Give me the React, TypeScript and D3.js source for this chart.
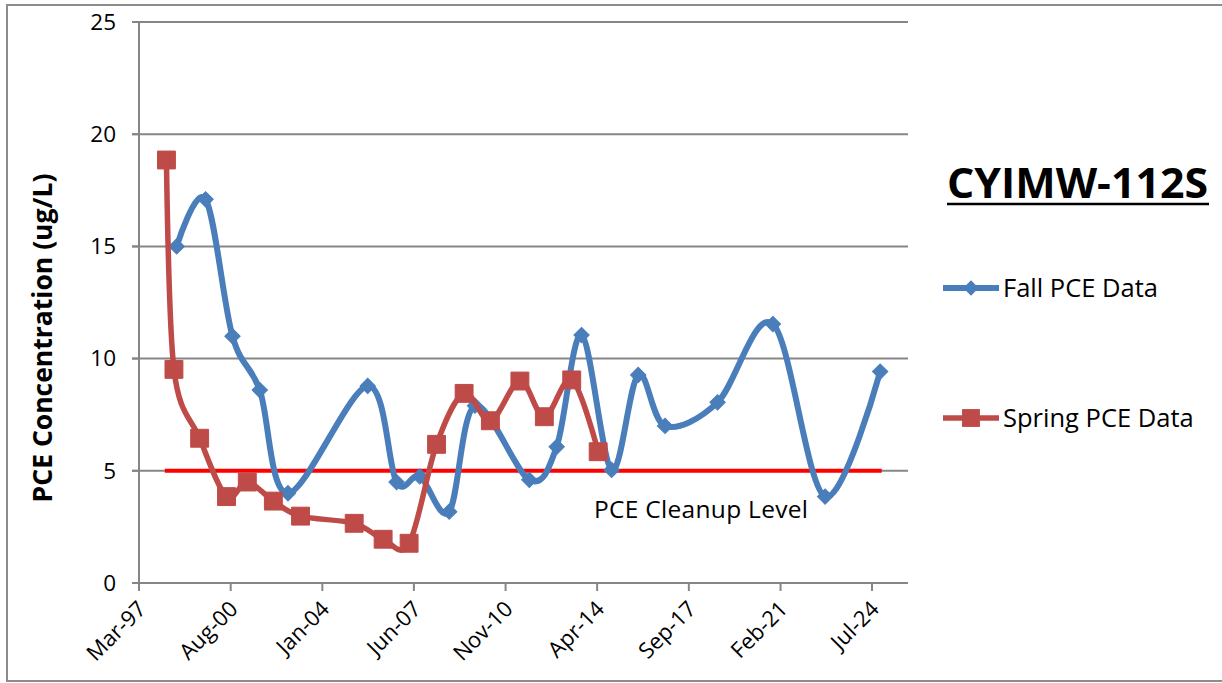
import React from "react";
import * as d3 from "d3";

// ---- data ----
const fallDates = [
  "1998-07-27", "1999-08-25", "2000-08-25", "2001-09-01", "2002-09-20",
  "2005-09-10", "2006-10-08", "2007-08-20", "2008-09-24", "2009-09-10",
  "2011-09-20", "2012-09-27", "2013-09-01", "2014-10-15", "2015-10-12",
  "2016-10-12", "2018-09-27", "2020-10-20", "2022-10-01", "2024-10-20",
];
const fallValues = [
  15.0, 17.1, 11.0, 8.6, 4.0,
  8.78, 4.5, 4.75, 3.18, 7.9,
  4.6, 6.07, 11.05, 5.04, 9.27,
  7.0, 8.05, 11.54, 3.85, 9.42,
];
const springDates = [
  "1998-03-10", "1998-06-20", "1999-06-05", "2000-06-05", "2001-03-15",
  "2002-03-05", "2003-03-10", "2005-03-10", "2006-04-08", "2007-03-28",
  "2008-04-05", "2009-04-15", "2010-04-08", "2011-05-15", "2012-04-12",
  "2013-04-20", "2014-04-15",
];
const springValues = [
  18.85, 9.52, 6.45, 3.85, 4.5,
  3.65, 2.98, 2.66, 1.95, 1.77,
  6.18, 8.45, 7.23, 9.0, 7.41,
  9.05, 5.85,
];
const cleanupLevel = 5;
const cleanupDates = ["1998-02-15", "2024-11-10"];
const yTicks = [0, 5, 10, 15, 20, 25];
const xTickLabels = ["Mar-97", "Aug-00", "Jan-04", "Jun-07", "Nov-10", "Apr-14", "Sep-17", "Feb-21", "Jul-24"];
const xDomain = ["1997-03-01", "2025-11-03"];

const title = "CYIMW-112S";
const yTitle = "PCE Concentration (ug/L)";
const fallName = "Fall PCE Data";
const springName = "Spring PCE Data";
const cleanupName = "PCE Cleanup Level";

const W = 1222;
const H = 683;
const FONT = "'Open Sans', 'Noto Sans', sans-serif";
const BLUE = "#4A7EBB";
const RED = "#BE4B48";

export default function App() {
  const parse = d3.timeParse("%Y-%m-%d");
  const parseTick = d3.timeParse("%b-%y");
  const x = d3.scaleTime().domain(xDomain.map((d) => parse(d) as Date)).range([139, 908]);
  const y = d3.scaleLinear().domain([0, 25]).range([583, 22]);

  const fall = fallDates.map((d, i) => ({ x: x(parse(d) as Date), y: y(fallValues[i]) }));
  const spring = springDates.map((d, i) => ({ x: x(parse(d) as Date), y: y(springValues[i]) }));
  const line = d3
    .line<{ x: number; y: number }>()
    .x((d) => d.x)
    .y((d) => d.y)
    .curve(d3.curveCatmullRom.alpha(0));

  const diamond = d3.symbol(d3.symbolSquare, 118)();
  const square = d3.symbol(d3.symbolSquare, 320)();

  const ticks = xTickLabels.map((l) => ({ l, x: x(parseTick(l) as Date) }));
  const [x0, x1] = x.range();

  return (
    <svg
      width={W}
      height={H}
      style={{ position: "absolute", left: 0, top: 0, background: "#fff" }}
      fontFamily={FONT}
    >
      <rect x={7} y={5} width={W} height={676} fill="#fff" stroke="#8c8c8c" strokeWidth={2} />
      {/* gridlines */}
      {yTicks.map((t) => (
        <g key={t}>
          {t > 0 && <line x1={132} x2={x1} y1={y(t)} y2={y(t)} stroke="#868686" strokeWidth={2} />}
          <line x1={132} x2={x0} y1={y(t)} y2={y(t)} stroke="#868686" strokeWidth={2} />
          <text x={116} y={y(t)} dy="0.35em" textAnchor="end" fontSize={22.5} fill="#000">
            {t}
          </text>
        </g>
      ))}
      {/* axes */}
      <line x1={x0} x2={x0} y1={y(25)} y2={y(0)} stroke="#868686" strokeWidth={2} />
      <line x1={x0} x2={x1} y1={y(0)} y2={y(0)} stroke="#868686" strokeWidth={2} />
      {ticks.map((t) => (
        <g key={t.l}>
          <line x1={t.x} x2={t.x} y1={y(0)} y2={y(0) + 8} stroke="#868686" strokeWidth={2} />
          <text
            transform={`translate(${t.x + 3},${y(0) + 22}) rotate(-45)`}
            textAnchor="end"
            dy="0.35em"
            fontSize={22}
            fill="#000"
          >
            {t.l}
          </text>
        </g>
      ))}
      <text
        transform={`translate(43,338) rotate(-90)`}
        textAnchor="middle"
        dy="0.35em"
        fontSize={26.5}
        fontWeight="bold"
        fill="#000"
      >
        {yTitle}
      </text>
      {/* cleanup level */}
      <line
        x1={x(parse(cleanupDates[0]) as Date)}
        x2={x(parse(cleanupDates[1]) as Date)}
        y1={y(cleanupLevel)}
        y2={y(cleanupLevel)}
        stroke="#FF0000"
        strokeWidth={4}
      />
      <text x={594} y={518} fontSize={24.5} textLength={214} lengthAdjust="spacing" fill="#000">
        {cleanupName}
      </text>
      {/* series */}
      <path d={line(fall) || ""} fill="none" stroke={BLUE} strokeWidth={6} strokeLinejoin="round" />
      {fall.map((p, i) => (
        <path key={i} d={diamond || ""} transform={`translate(${p.x},${p.y}) rotate(45)`} fill={BLUE} stroke={BLUE} strokeWidth={1} />
      ))}
      <path d={line(spring) || ""} fill="none" stroke={RED} strokeWidth={5.5} strokeLinejoin="round" />
      {spring.map((p, i) => (
        <path key={i} d={square || ""} transform={`translate(${p.x},${p.y})`} fill={RED} stroke={RED} strokeWidth={1} />
      ))}
      {/* title */}
      <text x={947} y={198} fontSize={41} fontWeight="bold" textLength={261} lengthAdjust="spacingAndGlyphs" fill="#000">
        {title}
      </text>
      <line x1={947} x2={1209} y1={204} y2={204} stroke="#000" strokeWidth={2.5} />
      {/* legend */}
      <line x1={943} x2={999} y1={288} y2={288} stroke={BLUE} strokeWidth={6} />
      <path d={diamond || ""} transform={`translate(971,288) rotate(45)`} fill={BLUE} />
      <text x={1003} y={288} dy="0.35em" fontSize={25.5} fill="#000">
        {fallName}
      </text>
      <line x1={943} x2={999} y1={418} y2={418} stroke={RED} strokeWidth={5.5} />
      <path d={square || ""} transform={`translate(971,418)`} fill={RED} />
      <text x={1003} y={418} dy="0.35em" fontSize={25.5} fill="#000">
        {springName}
      </text>
    </svg>
  );
}
